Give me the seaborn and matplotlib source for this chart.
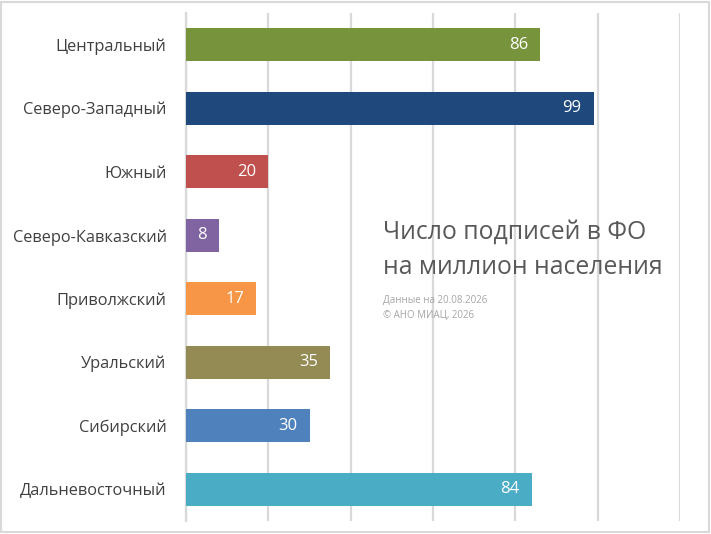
import matplotlib
matplotlib.use("Agg")
import matplotlib.pyplot as plt
import seaborn as sns
import pandas as pd
from matplotlib.patches import Rectangle

# data
regions = ["Центральный", "Северо-Западный", "Южный", "Северо-Кавказский",
           "Приволжский", "Уральский", "Сибирский", "Дальневосточный"]
values = [86, 99, 20, 8, 17, 35, 30, 84]
colors = ["#77933C", "#1F497D", "#C0504D", "#8064A2",
          "#F79646", "#948A54", "#4F81BD", "#4BACC6"]

df = pd.DataFrame({"region": regions, "value": values})

sns.set_style("white")
plt.rcParams["font.family"] = ["Open Sans", "DejaVu Sans"]

fig = plt.figure(figsize=(7.11, 5.34), dpi=100)
ax = fig.add_axes([186 / 711, 13 / 534, (680 - 186) / 711, (521 - 13) / 534])

sns.barplot(data=df, y="region", x="value", hue="region", palette=colors,
            legend=False, width=0.52, saturation=1, linewidth=0, ax=ax, zorder=3)

ax.set_xlim(0, 120)
ax.set_ylim(len(regions) - 0.5, -0.5)
ax.set_xticks(range(0, 121, 20))
ax.set_xticklabels([])
ax.xaxis.grid(True, color="#D9D9D9", linewidth=1.6, zorder=0)
ax.tick_params(axis="x", length=0)
ax.set_xlabel("")
ax.set_ylabel("")

# category boundary ticks on the left axis
ax.set_yticks([i - 0.5 for i in range(len(regions) + 1)], minor=True)
ax.tick_params(axis="y", which="minor", length=5, width=1.6, color="#D9D9D9")
ax.tick_params(axis="y", which="major", length=0, pad=14, labelsize=11.8, labelcolor="#404040")

for s in ["top", "right", "bottom"]:
    ax.spines[s].set_visible(False)
ax.spines["left"].set_color("#D9D9D9")
ax.spines["left"].set_linewidth(1.6)

for i, v in enumerate(values):
    ax.text(v - 2.9, i, str(v), ha="right", va="center", color="white",
            fontsize=12, zorder=4)

fig.text(383 / 711, 1 - 250 / 534, "Число подписей в ФО\nна миллион населения",
         ha="left", va="center", fontsize=17.8, color="#595959", linespacing=1.55)
fig.text(383 / 711, 1 - 308 / 534, "Данные на 20.08.2026\n© АНО МИАЦ, 2026",
         ha="left", va="center", fontsize=7, color="#A6A6A6", linespacing=1.45)

fig.patches.append(Rectangle((0.002, 0.003), 0.995, 0.994, transform=fig.transFigure,
                             fill=False, edgecolor="#D9D9D9", linewidth=1.5))

fig.savefig("out.png", dpi=100)
